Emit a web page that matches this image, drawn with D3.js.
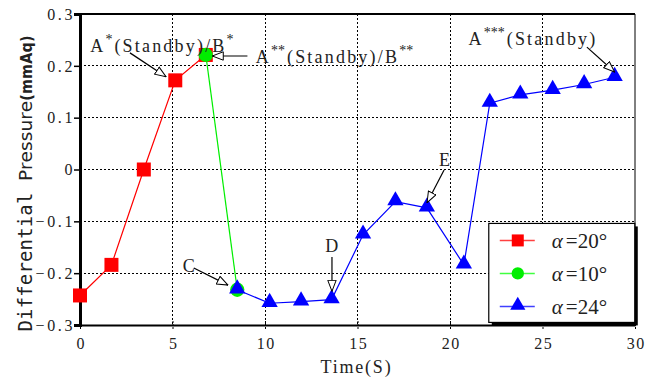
<!DOCTYPE html>
<html>
<head>
<meta charset="utf-8">
<script src="https://cdn.jsdelivr.net/npm/d3@7"></script>
<style>
  body { margin: 0; background: #fff; }
  svg text { fill: #222; }
</style>
</head>
<body>
<div id="graph"></div>
<script>
const margin = { top: 14, right: 23, left: 80, bottom: 54 };
const fullWidth = 658;
const fullHeight = 379;
const width = fullWidth - margin.left - margin.right;
const height = fullHeight - margin.top - margin.bottom;

// series
var redTime = [0, 1.7, 3.45, 5.15, 6.8];
var redValue = [-0.243, -0.184, 0, 0.172, 0.221];
var greenTime = [6.8, 8.5];
var greenValue = [0.221, -0.232];
var blueTime = [8.5, 10.25, 11.95, 13.6, 15.3, 17.05, 18.75, 20.75, 22.15, 23.8, 25.55, 27.25, 28.9];
var blueValue = [-0.232, -0.258, -0.255, -0.251, -0.126, -0.062, -0.074, -0.184, 0.128, 0.144, 0.153, 0.164, 0.178];

var xTicks = [0, 5, 10, 15, 20, 25, 30];
var yTicks = [-0.3, -0.2, -0.1, 0, 0.1, 0.2, 0.3];
var legendLabels = ["=20°", "=10°", "=24°"];

// annotations: text anchor and arrow tail -> tip, in data units
var notes = [
  { base: "A", sup: "*", rest: "(Standby)/B", sup2: "*", tx: 0.55, ty: 0.227, from: [2.7, 0.225], to: [4.65, 0.179] },
  { base: "A", sup: "**", rest: "(Standby)/B", sup2: "**", tx: 9.5, ty: 0.205, from: [9.05, 0.219], to: [7.15, 0.219] },
  { base: "A", sup: "***", rest: "(Standby)", sup2: "", tx: 21.0, ty: 0.24, from: [27.4, 0.236], to: [28.9, 0.188] },
  { base: "C", sup: "", rest: "", sup2: "", tx: 5.55, ty: -0.198, from: [6.15, -0.19], to: [8.0, -0.223] },
  { base: "D", sup: "", rest: "", sup2: "", tx: 13.25, ty: -0.159, from: [13.62, -0.169], to: [13.62, -0.235] },
  { base: "E", sup: "", rest: "", sup2: "", tx: 19.4, ty: 0.007, from: [19.68, -0.001], to: [18.76, -0.064] }
];

var svg = d3.select("#graph")
  .append("svg")
  .attr("width", fullWidth)
  .attr("height", fullHeight)
  .append("g")
  .attr("transform", "translate(" + margin.left + "," + margin.top + ")");

var defs = svg.append("defs");
defs.append("marker")
  .attr("id", "openArrow")
  .attr("viewBox", "0 0 12 10")
  .attr("refX", 11.5)
  .attr("refY", 5)
  .attr("markerWidth", 12)
  .attr("markerHeight", 10)
  .attr("markerUnits", "userSpaceOnUse")
  .attr("orient", "auto")
  .append("path")
  .attr("d", "M0.5,0.8 L11.5,5 L0.5,9.2 Z")
  .attr("fill", "#fff")
  .attr("stroke", "#000")
  .attr("stroke-width", 1);

var x = d3.scaleLinear().domain([0, 30]).range([0, width]);
var y = d3.scaleLinear().domain([-0.3, 0.3]).range([height, 0]);

var serif = "'Liberation Serif', 'DejaVu Serif', serif";

// grid
svg.append("g")
  .selectAll("line")
  .data(xTicks.slice(1, -1))
  .enter().append("line")
  .attr("x1", d => x(d)).attr("x2", d => x(d))
  .attr("y1", 0).attr("y2", height)
  .attr("stroke", "#000").attr("stroke-width", 1)
  .attr("stroke-dasharray", "2,2")
  .attr("shape-rendering", "crispEdges");

svg.append("g")
  .selectAll("line")
  .data(yTicks.slice(1, -1))
  .enter().append("line")
  .attr("x1", 0).attr("x2", width)
  .attr("y1", d => y(d)).attr("y2", d => y(d))
  .attr("stroke", "#000").attr("stroke-width", 1)
  .attr("stroke-dasharray", "2,2")
  .attr("shape-rendering", "crispEdges");

// frame
svg.append("line").attr("x1", 0).attr("x2", width).attr("y1", 0).attr("y2", 0)
  .attr("stroke", "#000").attr("stroke-width", 2);
svg.append("line").attr("x1", width).attr("x2", width).attr("y1", 0).attr("y2", height)
  .attr("stroke", "#000").attr("stroke-width", 1);

// axes
var yAxis = svg.append("g")
  .call(d3.axisLeft(y).tickValues(yTicks).tickSize(6)
    .tickFormat(d => d === 0 ? "0" : d3.format(".1f")(d).replace("-", "\u2212")));
yAxis.select(".domain").attr("stroke-width", 3);
yAxis.selectAll(".tick line").attr("stroke-width", 1.5);
yAxis.selectAll("text")
  .attr("font-family", serif).attr("font-size", 16).attr("fill", "#222")
  .attr("letter-spacing", 2.6)
  .attr("x", -5).attr("dy", "0.33em");

var xAxis = svg.append("g")
  .attr("transform", "translate(0," + height + ")")
  .call(d3.axisBottom(x).tickValues(xTicks).tickSize(4).tickSizeOuter(0));
xAxis.select(".domain").attr("stroke-width", 2);
xAxis.selectAll(".tick line").attr("y1", -4).attr("stroke-dasharray", "2,1");
xAxis.selectAll("text")
  .attr("font-family", serif).attr("font-size", 16).attr("fill", "#222")
  .attr("letter-spacing", 1.5).attr("dx", 0.75)
  .attr("y", 13);

// axis titles
svg.append("text")
  .attr("x", width / 2 - 1)
  .attr("y", height + 48)
  .attr("text-anchor", "middle")
  .attr("font-family", serif)
  .attr("font-size", 18)
  .attr("letter-spacing", 1.8)
  .attr("fill", "#222")
  .text("Time(S)");

var yTitle = svg.append("text")
  .attr("transform", "translate(" + (-48) + "," + (height / 2 + 14) + ") rotate(-90)")
  .attr("text-anchor", "middle")
  .attr("textLength", 296)
  .attr("lengthAdjust", "spacing")
  .attr("font-size", 19)
  .attr("fill", "#222");
yTitle.append("tspan").attr("font-family", "'DejaVu Sans Mono', monospace").attr("font-size", 19).text("Differential ");
yTitle.append("tspan").attr("font-family", "'DejaVu Sans', sans-serif").attr("font-size", 18.5).text("Pressure");
yTitle.append("tspan").attr("font-family", "'DejaVu Sans Condensed', 'DejaVu Sans', sans-serif")
  .attr("font-weight", "bold").attr("font-size", 16).text("(mmAq)");

// series
var line = d3.line().x(d => x(d[0])).y(d => y(d[1]));
var redData = d3.zip(redTime, redValue);
var greenData = d3.zip(greenTime, greenValue);
var blueData = d3.zip(blueTime, blueValue);

svg.append("path").datum(redData).attr("d", line).attr("fill", "none").attr("stroke", "#ff0000").attr("stroke-width", 1.2);
svg.append("path").datum(greenData).attr("d", line).attr("fill", "none").attr("stroke", "#00ee00").attr("stroke-width", 1.2);
svg.append("path").datum(blueData).attr("d", line).attr("fill", "none").attr("stroke", "#0000ff").attr("stroke-width", 1.2);

var squareSym = d3.symbol().type(d3.symbolSquare).size(196);
var circleSym = d3.symbol().type(d3.symbolCircle).size(160);
var triSym = d3.symbol().type(d3.symbolTriangle).size(115);

svg.append("g").selectAll("path").data(redData).enter().append("path")
  .attr("d", squareSym).attr("fill", "#ff0000")
  .attr("transform", d => "translate(" + x(d[0]) + "," + y(d[1]) + ")");
svg.append("g").selectAll("path").data(greenData).enter().append("path")
  .attr("d", circleSym).attr("fill", "#00ee00")
  .attr("transform", d => "translate(" + x(d[0]) + "," + y(d[1]) + ")");
svg.append("g").selectAll("path").data(blueData).enter().append("path")
  .attr("d", triSym).attr("fill", "#0000ff")
  .attr("transform", d => "translate(" + x(d[0]) + "," + (y(d[1]) - 1) + ")");

// annotations
notes.forEach(function (n) {
  svg.append("line")
    .attr("x1", x(n.from[0])).attr("y1", y(n.from[1]))
    .attr("x2", x(n.to[0])).attr("y2", y(n.to[1]))
    .attr("stroke", "#000").attr("stroke-width", 1.2)
    .attr("marker-end", "url(#openArrow)");
  var t = svg.append("text")
    .attr("x", x(n.tx)).attr("y", y(n.ty))
    .attr("font-family", serif).attr("font-size", 18).attr("letter-spacing", 2.2).attr("fill", "#333");
  t.append("tspan").text(n.base);
  if (n.sup) t.append("tspan").attr("dy", -8).attr("font-size", 14).attr("letter-spacing", 0).text(n.sup);
  if (n.rest) t.append("tspan").attr("dy", n.sup ? 8 : 0).attr("dx", n.sup ? 2 : 0).text(n.rest);
  if (n.sup2) t.append("tspan").attr("dy", -8).attr("font-size", 14).attr("letter-spacing", 0).text(n.sup2);
});

// legend
var legW = 146, legH = 99;
var legend = svg.append("g").attr("transform", "translate(" + (x(22.15) - 1) + "," + (y(-0.105) - 0.5) + ")");
legend.append("rect").attr("x", 3).attr("y", 3).attr("width", legW).attr("height", legH).attr("fill", "#000");
legend.append("rect").attr("width", legW).attr("height", legH).attr("fill", "#fff").attr("stroke", "#000").attr("stroke-width", 1.2);

var legColors = ["#ff4040", "#40ff40", "#4040ff"];
var legFill = ["#ff0000", "#00ee00", "#0000ff"];
var legSyms = [
  d3.symbol().type(d3.symbolSquare).size(144),
  d3.symbol().type(d3.symbolCircle).size(120),
  d3.symbol().type(d3.symbolTriangle).size(100)
];
legendLabels.forEach(function (lab, i) {
  var gy = 17 + i * 33;
  var row = legend.append("g").attr("transform", "translate(0," + gy + ")");
  row.append("line").attr("x1", 11).attr("x2", 46).attr("y1", 0).attr("y2", 0)
    .attr("stroke", legColors[i]).attr("stroke-width", 1.5);
  row.append("path").attr("d", legSyms[i])
    .attr("fill", legFill[i]).attr("transform", "translate(29," + (i === 2 ? -1 : 0) + ")");
  var t = row.append("text").attr("x", 63).attr("y", 8)
    .attr("font-family", serif).attr("font-size", 21).attr("fill", "#333");
  t.append("tspan").attr("font-style", "italic").text("α");
  t.append("tspan").attr("dx", 3).text(lab);
});
</script>
</body>
</html>
